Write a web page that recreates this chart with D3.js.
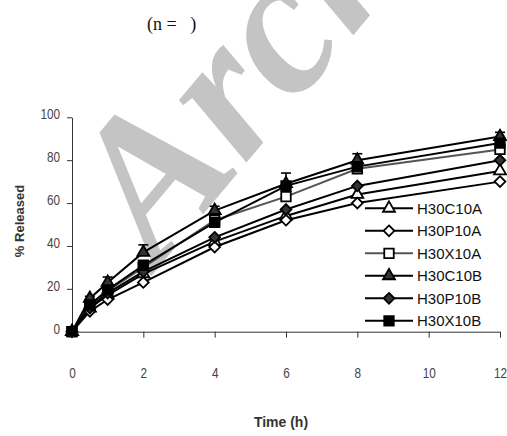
<!DOCTYPE html>
<html><head><meta charset="utf-8">
<script src="https://cdn.jsdelivr.net/npm/d3@7"></script>
<style>body{margin:0;background:#fff}svg{display:block}</style>
</head><body>
<script>
const times = [0, 0.5, 1, 2, 4, 6, 8, 12];
const H30C10A = [0, 11, 17, 27, 42, 54, 64, 75];
const H30P10A = [0, 9.5, 15, 23, 39.5, 52, 60, 70];
const H30X10A = [0, 12, 19, 30, 52, 63, 76, 85];
const H30C10B = [0, 15.5, 23, 37, 56.5, 69, 80, 91];
const H30P10B = [0, 11, 18, 28, 44, 57, 68, 80];
const H30X10B = [0, 12.5, 19.5, 31, 51, 68, 77, 88];
const errC10B = [0, 1, 2.5, 3.5, 2, 5, 3, 2];
const xTicks = [0, 2, 4, 6, 8, 10, 12];
const yTicks = [0, 20, 40, 60, 80, 100];
const seriesNames = ["H30C10A","H30P10A","H30X10A","H30C10B","H30P10B","H30X10B"];

const W = 507, H = 436;
const svg = d3.select("body").append("svg").attr("width", W).attr("height", H);
svg.append("rect").attr("width", W).attr("height", H).attr("fill", "#fff");

// watermark
svg.append("text").attr("transform", "translate(158,268) rotate(-50)")
  .attr("font-family", "Liberation Serif").attr("font-weight", "bold").attr("font-style", "italic")
  .attr("font-size", 200).attr("fill", "#c4c4c4").text("Archive");

// title
svg.append("text").attr("x", 147).attr("y", 29.5).attr("font-family", "Liberation Serif")
  .attr("font-size", 18).attr("fill", "#111").attr("xml:space", "preserve").text("(n =   )");

const x = d3.scaleLinear().domain([0, 12]).range([72, 500]);
const y = d3.scaleLinear().domain([0, 100]).range([331.7, 117.3]);

const tickFont = "Liberation Sans, Arial, sans-serif";
const sx = 0.84;

// axes
const yAxis = svg.append("g").attr("transform", "translate(72,0)")
  .call(d3.axisLeft(y).tickValues(yTicks).tickSize(5).tickSizeOuter(0).tickPadding(7));
yAxis.select(".domain").attr("stroke", "#333");
yAxis.selectAll(".tick line").attr("stroke", "#333");
yAxis.selectAll("text").attr("font-family", tickFont)
  .attr("font-size", 14).attr("fill", "#444").attr("dy", "0.1em")
  .attr("x", -12 / sx).attr("transform", `scale(${sx},1)`);

const xAxis = svg.append("g").attr("transform", "translate(0,331.7)")
  .call(d3.axisBottom(x).tickValues(xTicks).tickSize(6).tickSizeOuter(0).tickPadding(30));
xAxis.select(".domain").attr("stroke", "#333");
xAxis.selectAll(".tick line").attr("stroke", "#333");
xAxis.selectAll("text").attr("font-family", tickFont)
  .attr("font-size", 14).attr("fill", "#444").attr("transform", `scale(${sx},1)`);

svg.append("text").attr("x", 281).attr("y", 427).attr("text-anchor", "middle")
  .attr("font-family", "Liberation Sans").attr("font-weight", "bold").attr("font-size", 14)
  .attr("fill", "#333").text("Time (h)");
svg.append("text").attr("transform", "translate(24,221) rotate(-90)").attr("text-anchor", "middle")
  .attr("font-family", "Liberation Sans").attr("font-weight", "bold").attr("font-size", 13)
  .attr("fill", "#333").text("% Released");

const wideDiamond = {draw(ctx, size) {
  const r = Math.sqrt(size / 2);
  ctx.moveTo(0, -r); ctx.lineTo(r, 0); ctx.lineTo(0, r); ctx.lineTo(-r, 0); ctx.closePath();
}};

const styles = {
  H30C10A: {sym: d3.symbolTriangle, size: 62, fill: "#fff", line: "#000"},
  H30P10A: {sym: wideDiamond, size: 58, fill: "#fff", line: "#000"},
  H30X10A: {sym: d3.symbolSquare, size: 90, fill: "#fff", line: "#555"},
  H30C10B: {sym: d3.symbolTriangle, size: 62, fill: "#333", line: "#000"},
  H30P10B: {sym: wideDiamond, size: 58, fill: "#333", line: "#000"},
  H30X10B: {sym: d3.symbolSquare, size: 90, fill: "#000", line: "#000"}
};
const dataMap = {H30C10A, H30P10A, H30X10A, H30C10B, H30P10B, H30X10B};

// error bars
const eb = svg.append("g").attr("stroke", "#000").attr("stroke-width", 1.6);
times.forEach((t, i) => {
  if (!errC10B[i]) return;
  const v = H30C10B[i];
  eb.append("line").attr("x1", x(t)).attr("x2", x(t)).attr("y1", y(v)).attr("y2", y(v + errC10B[i]));
  eb.append("line").attr("x1", x(t) - 5).attr("x2", x(t) + 5).attr("y1", y(v + errC10B[i])).attr("y2", y(v + errC10B[i]));
});

const line = d3.line().x((d, i) => x(times[i])).y(d => y(d));
seriesNames.forEach(n => {
  svg.append("path").attr("d", line(dataMap[n])).attr("fill", "none")
    .attr("stroke", styles[n].line).attr("stroke-width", 2);
});
seriesNames.forEach(n => {
  const s = styles[n];
  svg.append("g").selectAll("path").data(dataMap[n]).join("path")
    .attr("transform", (d, i) => `translate(${x(times[i])},${y(d)})`)
    .attr("d", d3.symbol().type(s.sym).size(s.size))
    .attr("fill", s.fill).attr("stroke", "#000").attr("stroke-width", 1.8);
});

// legend
const leg = svg.append("g");
seriesNames.forEach((n, i) => {
  const s = styles[n];
  const cy = 208.3 + i * 22.5;
  leg.append("line").attr("x1", 365).attr("x2", 413).attr("y1", cy).attr("y2", cy)
    .attr("stroke", s.line).attr("stroke-width", 2);
  leg.append("path").attr("transform", `translate(389,${cy})`)
    .attr("d", d3.symbol().type(s.sym).size(s.size)).attr("fill", s.fill)
    .attr("stroke", "#000").attr("stroke-width", 1.8);
  leg.append("text").attr("x", 417).attr("y", cy + 5.3).attr("font-family", "Liberation Sans")
    .attr("font-size", 15).attr("fill", "#111").text(n);
});
</script>
</body></html>
